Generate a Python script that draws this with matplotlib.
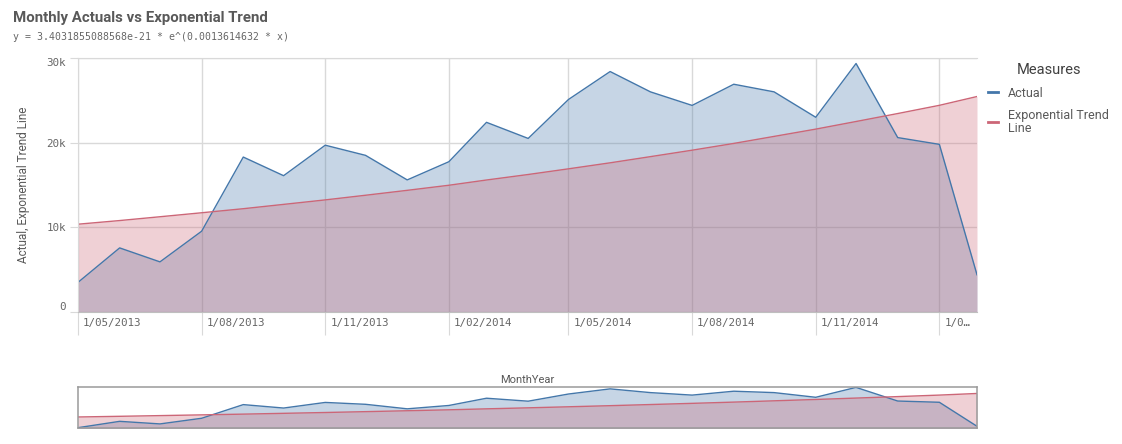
import matplotlib
matplotlib.use("Agg")
import matplotlib.pyplot as plt
from matplotlib.lines import Line2D
from matplotlib.transforms import ScaledTranslation
import pandas as pd

# datos (valores mensuales)
meses = pd.date_range("2013-05-01", periods=23, freq="MS")
actual = [3500, 7570, 5920, 9540, 18300, 16100, 19700, 18500, 15600, 17750, 22400, 20500,
          25100, 28400, 26000, 24400, 26900, 26000, 23000, 29350, 20600, 19800, 4400]
tendencia = [10370, 10800, 11250, 11720, 12200, 12710, 13240, 13790, 14370, 14970, 15590, 16240,
             16910, 17620, 18350, 19110, 19910, 20740, 21600, 22500, 23440, 24410, 25450]

fechas_ticks = pd.to_datetime(["2013-05-01", "2013-08-01", "2013-11-01", "2014-02-01",
                               "2014-05-01", "2014-08-01", "2014-11-01", "2015-02-01"])
etiquetas_x = ["1/05/2013", "1/08/2013", "1/11/2013", "1/02/2014",
               "1/05/2014", "1/08/2014", "1/11/2014", "1/0…"]
valores_y = [0, 10000, 20000, 30000]
etiquetas_y = ["0", "10k", "20k", "30k"]

azul = "#4477aa"
rojo = "#cc6677"
gris = "#595959"
rejilla = "#d9d9d9"

plt.rcParams["font.family"] = ["Roboto", "DejaVu Sans"]

W, H = 1122, 444
px = 0.72  # puntos por pixel a 100 dpi
fig = plt.figure(figsize=(W / 100, H / 100), dpi=100)

# grafico principal
ax = fig.add_axes([78 / W, (H - 312) / H, 899 / W, 254 / H])
ax.fill_between(meses, actual, color=azul, alpha=0.3, lw=0)
ax.plot(meses, actual, color=azul, lw=1)
ax.fill_between(meses, tendencia, color=rojo, alpha=0.3, lw=0)
ax.plot(meses, tendencia, color=rojo, lw=1)

ax.set_xlim(meses[0], meses[-1])
ax.set_ylim(0, 30000)
ax.set_axisbelow(True)
ax.grid(color=rejilla, lw=1)

ax.set_xticks(fechas_ticks, etiquetas_x)
ax.set_yticks(valores_y, etiquetas_y)
ax.tick_params(axis="x", length=23 * px, color=rejilla, pad=-17 * px, labelsize=7.8, labelcolor="#666666")
ax.tick_params(axis="y", length=8 * px, color=rejilla, pad=4 * px, labelsize=7.8, labelcolor="#666666")
desplazar = ScaledTranslation(5 / 100, 0, fig.dpi_scale_trans)
for lab in ax.get_xticklabels():
    lab.set_ha("left")
    lab.set_family("DejaVu Sans Mono")
    lab.set_transform(lab.get_transform() + desplazar)
for lab in ax.get_yticklabels():
    lab.set_family("DejaVu Sans Mono")
ylabs = ax.get_yticklabels()
ylabs[0].set_va("bottom")
ylabs[-1].set_va("top")

for s in ["top", "left"]:
    ax.spines[s].set_color(rejilla)
ax.spines["bottom"].set_color("#bfbfbf")
ax.spines["right"].set_visible(False)

ax.set_ylabel("Actual, Exponential Trend Line", color=gris, fontsize=8.5)
ax.yaxis.set_label_coords(-48 / 899, 0.5)

# mini grafico de desplazamiento
ax2 = fig.add_axes([78 / W, (H - 428) / H, 899 / W, 41 / H])
ax2.fill_between(meses, actual, color=azul, alpha=0.3, lw=0)
ax2.plot(meses, actual, color=azul, lw=1)
ax2.fill_between(meses, tendencia, color=rojo, alpha=0.3, lw=0)
ax2.plot(meses, tendencia, color=rojo, lw=1)
ax2.set_xlim(meses[0], meses[-1])
ax2.set_ylim(3300, 29600)
ax2.set_xticks([])
ax2.set_yticks([])
for s in ax2.spines.values():
    s.set_color("#9a9a9a")
    s.set_linewidth(1.1)
ax2.set_title("MonthYear", color=gris, fontsize=8, pad=3)

# titulos
fig.text(13 / W, 1 - 18 / H, "Monthly Actuals vs Exponential Trend", fontsize=10.8,
         fontweight="bold", color=gris, va="center")
fig.text(13 / W, 1 - 37 / H, "y = 3.4031855088568e-21 * e^(0.0013614632 * x)", fontsize=7.1,
         family="DejaVu Sans Mono", color="#666666", va="center")

# leyenda
manejadores = [Line2D([], [], color=azul, lw=2), Line2D([], [], color=rojo, lw=2)]
leg = fig.legend(manejadores, ["Actual", "Exponential Trend\nLine"], title="Measures",
                 loc="upper left", bbox_to_anchor=(977 / W, 1 - 52 / H), frameon=False,
                 handlelength=0.8, handletextpad=0.8, labelspacing=0.75,
                 fontsize=9, title_fontsize=10.5, labelcolor=gris)
leg.get_title().set_color("#404040")
for t in leg.get_texts():
    t.set_linespacing(0.95)

fig.savefig("out.png", dpi=100)
